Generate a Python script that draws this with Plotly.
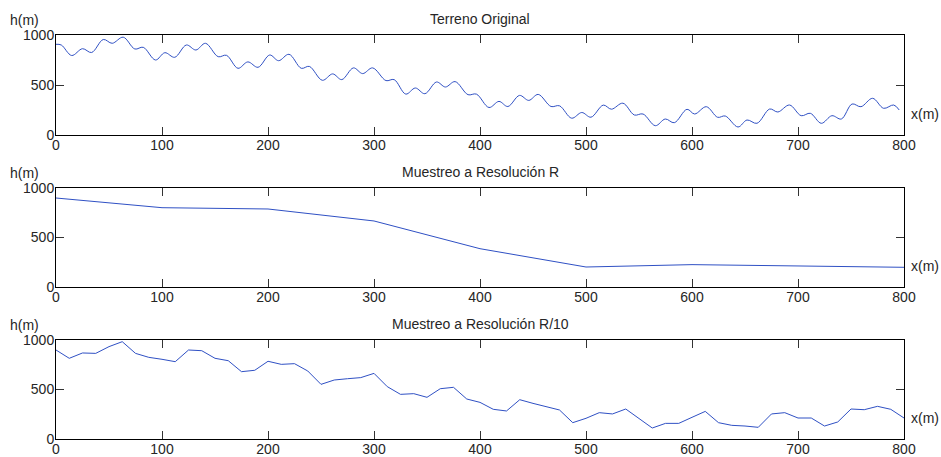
import plotly.graph_objects as go

# ---------------- data ----------------
x_terreno = [0, 5, 14.8, 25, 33.6, 44.6, 53, 63.4, 74.4, 82.3, 93.9, 102.7, 112, 123, 132, 141,
             153, 160.8, 171.7, 181, 190.6, 201.6, 210, 219.8, 231.4, 239, 251.3, 261, 269.6,
             280.6, 289.3, 298.7, 311.3, 319, 330, 339, 348, 359, 367.4, 376.5, 388.7, 396.6,
             408.5, 417.9, 426.3, 437.3, 446, 454.9, 467, 475, 486.5, 496, 504.7, 516.3, 524,
             534.8, 545.6, 553.8, 565.4, 574.8, 583.3, 595.3, 602.5, 613.5, 624.2, 631.4, 643.4,
             651.9, 661.3, 673.3, 681, 692, 703, 711.6, 722, 732, 740.9, 751, 759.4, 770.4,
             780.8, 790.3, 795.5]
h_terreno = [907, 900, 795, 863, 825, 955, 917, 978, 860, 877, 750, 823, 777, 900, 850, 917,
             783, 797, 667, 731, 677, 800, 743, 807, 667, 686, 547, 611, 554,
             671, 614, 671, 544, 554, 409, 470, 413, 530, 480, 534, 403, 409,
             275, 336, 285, 396, 346, 406, 285, 292, 168, 225, 178, 299, 258,
             318, 200, 210, 93, 160, 123, 257, 210, 283, 177, 190, 80,
             150, 117, 260, 230, 300, 193, 217, 117, 193, 160, 310, 283, 367,
             267, 300, 250]

x_R = [0, 100, 200, 300, 400, 500, 600, 700, 800]
h_R = [899, 801, 788, 667, 387, 202, 226, 209, 199]

h_R10 = [899, 815, 869, 865, 933, 983, 865, 825, 805, 781, 899, 892, 815, 791, 680, 694,
         785, 754, 761, 687, 552, 596, 609, 620, 663, 529, 451, 458, 421, 508, 522, 404,
         370, 300, 283, 397, 360, 327, 293, 165, 209, 266, 253, 303, 209, 111, 158, 158,
         219, 279, 165, 138, 131, 118, 253, 266, 212, 212, 131, 172, 303, 296, 330, 300, 212]
x_R10 = [12.5 * i for i in range(len(h_R10))]

titles = ["Terreno Original", "Muestreo a Resolución R", "Muestreo a Resolución R/10"]
x_ticks = [0, 100, 200, 300, 400, 500, 600, 700, 800]
y_ticks = [0, 500, 1000]

# ---------------- layout geometry (window pixels) ----------------
W, H = 941, 457
L, R_px, T, B = 56, 904, 35, 439
panels_px = [(35, 135), (188, 287), (340, 439)]  # (top, bottom) in pixels
plot_h = B - T

def py2paper(py):
    return (B - py) / plot_h

def px2paper(px):
    return (px - L) / (R_px - L)

LINE = "#2f50c4"
TXT = "#262626"
FONT = "Liberation Sans, Arial, Helvetica, sans-serif"

fig = go.Figure()
series = [(x_terreno, h_terreno, "spline"), (x_R, h_R, "linear"), (x_R10, h_R10, "linear")]
for i, (xs, ys, shape) in enumerate(series):
    suf = "" if i == 0 else str(i + 1)
    fig.add_trace(go.Scatter(x=xs, y=ys, mode="lines",
                             line=dict(color=LINE, width=1, shape=shape, smoothing=1.0),
                             xaxis="x" + suf, yaxis="y" + suf, showlegend=False,
                             hoverinfo="x+y"))

layout = dict(width=W, height=H,
              margin=dict(l=L, r=W - R_px, t=T, b=H - B, pad=0),
              paper_bgcolor="white", plot_bgcolor="white",
              font=dict(family=FONT, size=14, color=TXT), showlegend=False)

annotations = []
for i, (top, bot) in enumerate(panels_px):
    suf = "" if i == 0 else str(i + 1)
    common = dict(showline=True, linecolor="black", linewidth=1, mirror="ticks",
                  ticks="inside", ticklen=8, tickwidth=1, tickcolor="#333333",
                  showgrid=False, zeroline=False, automargin=False,
                  tickfont=dict(family=FONT, size=14, color=TXT), fixedrange=True)
    layout["xaxis" + suf] = dict(common, domain=[0, 1], range=[0, 800], tickvals=x_ticks,
                                 anchor="y" + suf, ticklabelstandoff=-3)
    layout["yaxis" + suf] = dict(common, domain=[py2paper(bot), py2paper(top)],
                                 range=[0, 1000], tickvals=y_ticks, anchor="x" + suf,
                                 ticklabelstandoff=-2)
    annotations.append(dict(text=titles[i], xref="paper", yref="paper", x=0.5,
                            y=py2paper(top - 16), xanchor="center", yanchor="middle",
                            showarrow=False, font=dict(size=14, color=TXT)))
    annotations.append(dict(text="h(m)", xref="paper", yref="paper", x=px2paper(24),
                            y=py2paper(top - 15), xanchor="center", yanchor="middle",
                            showarrow=False, font=dict(size=14, color=TXT)))
    annotations.append(dict(text="x(m)", xref="paper", yref="paper", x=px2paper(925),
                            y=py2paper(bot - 21), xanchor="center", yanchor="middle",
                            showarrow=False, font=dict(size=14, color=TXT)))

layout["annotations"] = annotations
fig.update_layout(**layout)
fig.write_html("out.html",
               config={"displayModeBar": False, "staticPlot": True},
               post_script="document.body.style.margin='0';"
                           "document.body.style.overflow='hidden';")
